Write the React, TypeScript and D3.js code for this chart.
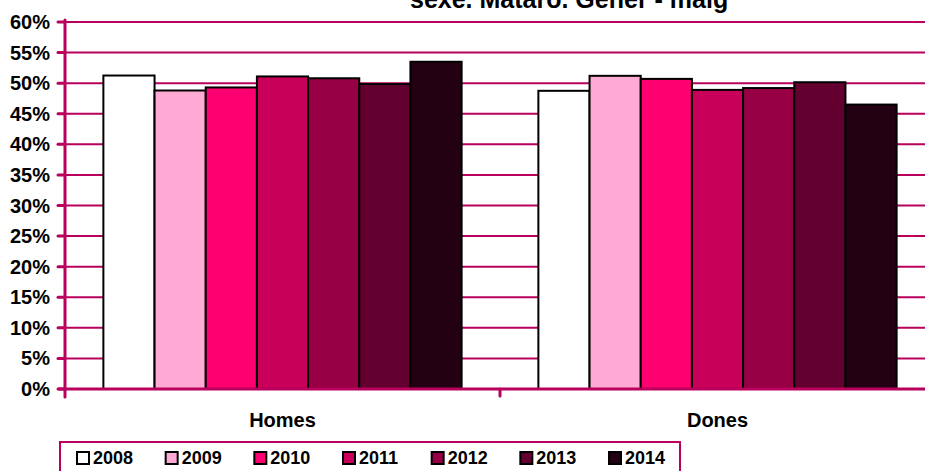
import React from "react";
import * as d3 from "d3";

const categories = ["Homes", "Dones"];
const years = ["2008", "2009", "2010", "2011", "2012", "2013", "2014"];
const homesValues = [51.25, 48.8, 49.3, 51.1, 50.8, 49.85, 53.5];
const donesValues = [48.75, 51.2, 50.7, 48.9, 49.2, 50.15, 46.5];
const yearColors = ["#FFFFFF", "#FFAAD5", "#FF0070", "#C8005A", "#970045", "#640030", "#230012"];
const yTicks = [0, 5, 10, 15, 20, 25, 30, 35, 40, 45, 50, 55, 60];
const titleText = "sexe. Mataró. Gener - maig";

const W = 925;
const H = 471;
const AXIS = "#B8005C";
const FONT = "'Liberation Sans', Arial, sans-serif";

export default function App() {
  const left = 65;
  const top = 22;
  const bottom = 389;
  const right = 935;

  const y = d3.scaleLinear().domain([0, 60]).range([bottom, top]);
  const x0 = d3.scaleBand<string>().domain(categories).range([left, right]).padding(0);
  const x1 = d3
    .scaleBand<string>()
    .domain(years)
    .range([0, x0.bandwidth()])
    .paddingInner(0)
    .paddingOuter(0.75);

  const seriesByCat: Record<string, number[]> = { Homes: homesValues, Dones: donesValues };

  const legendX = d3.scalePoint<string>().domain(years).range([76, 608]);

  return (
    <svg
      width={W}
      height={H}
      style={{ position: "absolute", left: 0, top: 0, display: "block", background: "#fff" }}
      fontFamily={FONT}
    >
      <defs>
        <clipPath id="clip">
          <rect x={0} y={0} width={W} height={H} />
        </clipPath>
      </defs>
      <g clipPath="url(#clip)">
        {/* title */}
        <text x={410} y={8} fontSize={25} fontWeight="bold" fill="#000">
          {titleText}
        </text>

        {/* gridlines */}
        {yTicks
          .filter((t) => t > 0)
          .map((t) => (
            <line key={"g" + t} x1={left} x2={right} y1={y(t)} y2={y(t)} stroke={AXIS} strokeWidth={2} />
          ))}

        {/* bars */}
        {categories.map((c) => (
          <g key={c} transform={`translate(${x0(c)},0)`}>
            {years.map((yr, i) => {
              const v = seriesByCat[c][i];
              return (
                <rect
                  key={yr}
                  x={x1(yr)}
                  y={y(v)}
                  width={x1.bandwidth()}
                  height={y(0) - y(v)}
                  fill={yearColors[i]}
                  stroke="#000"
                  strokeWidth={2}
                />
              );
            })}
          </g>
        ))}

        {/* y axis */}
        <line x1={left} x2={left} y1={top - 2} y2={bottom + 8} stroke={AXIS} strokeWidth={3} strokeLinecap="round" />
        {yTicks.map((t) => (
          <g key={"t" + t}>
            <line x1={left - 7} x2={left} y1={y(t)} y2={y(t)} stroke={AXIS} strokeWidth={3} strokeLinecap="round" />
            <text
              x={50}
              y={y(t)}
              dy="0.35em"
              textAnchor="end"
              fontSize={20}
              fontWeight="bold"
              fill="#000"
            >
              {t + "%"}
            </text>
          </g>
        ))}

        {/* x axis */}
        <line x1={left - 7} x2={right} y1={bottom} y2={bottom} stroke={AXIS} strokeWidth={3} />
        {categories.map((c, i) => (
          <g key={"c" + c}>
            {i > 0 && (
              <line
                x1={x0(c)}
                x2={x0(c)}
                y1={bottom}
                y2={bottom + 7}
                stroke={AXIS}
                strokeWidth={3}
                strokeLinecap="round"
              />
            )}
            <text
              x={(x0(c) as number) + x0.bandwidth() / 2}
              y={427}
              textAnchor="middle"
              fontSize={20}
              fontWeight="bold"
              fill="#000"
            >
              {c}
            </text>
          </g>
        ))}

        {/* legend */}
        <rect x={60} y={442} width={620} height={40} fill="#fff" stroke={AXIS} strokeWidth={2} />
        {years.map((yr, i) => {
          const lx = legendX(yr) as number;
          return (
            <g key={"l" + yr}>
              <rect x={lx + 1} y={452} width={12} height={12} fill={yearColors[i]} stroke="#000" strokeWidth={2} />
              <text x={lx + 17} y={464} fontSize={18} fontWeight="bold" fill="#000">
                {yr}
              </text>
            </g>
          );
        })}
      </g>
    </svg>
  );
}
